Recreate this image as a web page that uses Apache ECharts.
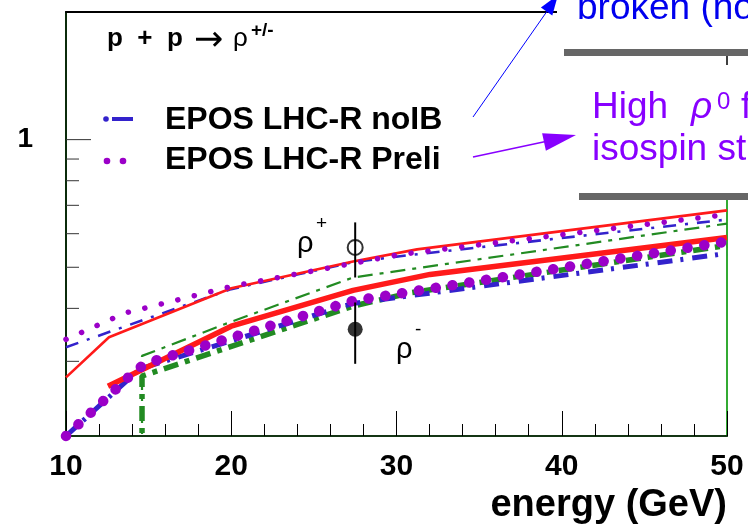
<!DOCTYPE html>
<html><head><meta charset="utf-8">
<script src="https://cdn.jsdelivr.net/npm/echarts@6/dist/echarts.min.js"></script>
<style>html,body{margin:0;padding:0;background:#fff}#c{width:748px;height:525px}</style>
</head><body><div id="c"></div>
<script>
// ---- data ----
const xTickLabels = [10, 20, 30, 40, 50];
const yMajorTicks = [1];
const yMinorTicks = [0.3, 0.4, 0.5, 0.6, 0.7, 0.8, 0.9];

const redUp     = [[10,0.275],[12.6,0.342],[20,0.446],[27.37,0.516],[31.24,0.551],[50,0.681]];
const redLow    = [[12.54,0.262],[20,0.363],[27.37,0.441],[32.03,0.481],[50,0.588]];
const greenUp   = [[14.6,0.15],[14.6,0.309],[19.92,0.371],[27.37,0.473],[28.64,0.481],[50,0.634]];
const greenLow  = [[14.6,0.15],[14.6,0.277],[27.37,0.405],[30.94,0.436],[50,0.563]];
const blueUp    = [[10,0.324],[20,0.444],[27.37,0.514],[30.21,0.531],[50,0.648]];
const blueLow   = [[10,0.2],[14.48,0.288],[27.37,0.411],[50,0.539]];
const purpleUp  = [[10,0.338],[13.57,0.390],[20.05,0.451],[30.21,0.536],[50,0.666]];
const purpleLow = [[10,0.2],[14.36,0.289],[15.26,0.300],[27.31,0.416],[50,0.575]];
// [energy, value, errLow, errHigh]
const rhoPlus  = [[27.5,0.557,0.473,0.638]];
const rhoMinus = [[27.5,0.357,0.296,0.413]];

// ---- chart ----
const FONT = 'Liberation Sans';
const RED = '#ff1a1a', GREEN = '#228b22', BLUE = '#3322cc', PURPLE = '#9b00c8';
const chart = echarts.init(document.getElementById('c'), null, {renderer: 'canvas'});

function line(name, data, color, width, dash, cap, z, clip) {
  return {
    name, type: 'line', data, xAxisIndex: 0, yAxisIndex: 0,
    showSymbol: false, symbol: 'none', z: z, clip: clip !== false,
    lineStyle: {color, width, type: dash || 'solid', cap: cap || 'butt'},
    silent: true
  };
}
function yTickSeries(vals, len) {
  return {
    type: 'custom', data: vals.map(v => [10, v]), xAxisIndex: 0, yAxisIndex: 0, z: 1, silent: true,
    renderItem: (params, api) => {
      const p = api.coord([api.value(0), api.value(1)]);
      return {type: 'line', shape: {x1: p[0], y1: p[1], x2: p[0] + len, y2: p[1]},
              style: {stroke: '#333', lineWidth: 1}};
    }
  };
}
function errSeries(data) {
  return {
    type: 'custom', data, xAxisIndex: 0, yAxisIndex: 0, z: 10, silent: true,
    encode: {x: 0, y: 1},
    renderItem: (params, api) => {
      const a = api.coord([api.value(0), api.value(2)]);
      const b = api.coord([api.value(0), api.value(3)]);
      return {type: 'line', shape: {x1: a[0], y1: a[1], x2: b[0], y2: b[1]},
              style: {stroke: '#000', lineWidth: 2}};
    }
  };
}

const option = {
  animation: false,
  backgroundColor: '#fff',
  grid: {left: 66, right: 21, top: 12, bottom: 89, containLabel: false, outerBoundsMode: 'none'},
  xAxis: [{
    type: 'value', min: 10, max: 50, interval: 10, position: 'bottom',
    name: 'energy (GeV)', nameLocation: 'end', nameGap: 0,
    nameTextStyle: {fontFamily: FONT, fontWeight: 'bold', fontSize: 38, color: '#000',
                    align: 'right', verticalAlign: 'top', padding: [51, 0, 0, 0]},
    axisLine: {show: true, lineStyle: {color: '#143514', width: 2}},
    axisTick: {show: true, inside: true, length: 25, lineStyle: {color: '#000', width: 1}},
    minorTick: {show: true, splitNumber: 5, length: 12, lineStyle: {color: '#000', width: 1}},
    splitLine: {show: false},
    axisLabel: {fontFamily: FONT, fontWeight: 'bold', fontSize: 30, color: '#000', margin: 16,
                formatter: v => xTickLabels.includes(v) ? String(v) : ''}
  }, {
    type: 'value', min: 10, max: 50, position: 'top',
    axisLine: {show: true, lineStyle: {color: '#000', width: 2}},
    axisTick: {show: false}, axisLabel: {show: false}, splitLine: {show: false}
  }],
  yAxis: [{
    type: 'log', logBase: 10, min: 0.2, max: 2, position: 'left',
    axisLine: {show: true, lineStyle: {color: '#0b2b0b', width: 2}},
    axisTick: {show: false}, minorTick: {show: false},
    splitLine: {show: false}, minorSplitLine: {show: false},
    axisLabel: {fontFamily: FONT, fontWeight: 'bold', fontSize: 28, color: '#000', margin: 33,
                padding: [6, 0, 0, 0],
                formatter: v => Math.abs(v - 1) < 1e-6 ? '1' : ''}
  }, {
    type: 'log', logBase: 10, min: 0.2, max: 2, position: 'right',
    axisLine: {show: true, lineStyle: {color: '#33aa33', width: 2}},
    axisTick: {show: false}, axisLabel: {show: false}, splitLine: {show: false}
  }],
  series: [
    yTickSeries(yMinorTicks, 13),
    yTickSeries(yMajorTicks, 25),
    line('greenUp', greenUp, GREEN, 2.2, [15, 7, 4, 7], 'butt', 3),
    line('greenLow', greenLow, GREEN, 5.5, [15, 7, 5, 7], 'butt', 3),
    line('blueUp', blueUp, BLUE, 2.6, [13, 9, 3, 9], 'butt', 4),
    line('blueLow', blueLow, BLUE, 5, [15, 8, 3, 9], 'butt', 4, false),
    line('redUp', redUp, RED, 2.6, 'solid', 'butt', 5),
    line('redLow', redLow, RED, 5.5, 'solid', 'butt', 5),
    line('purpleUp', purpleUp, PURPLE, 5.5, [0.1, 16.9], 'round', 6),
    line('purpleLow', purpleLow, PURPLE, 10.5, [0.1, 16.9], 'round', 6, false),
    errSeries(rhoPlus),
    errSeries(rhoMinus),
    {type: 'scatter', data: rhoPlus, encode: {x: 0, y: 1}, symbol: 'circle', symbolSize: 15, z: 11, silent: true,
     itemStyle: {color: 'rgba(0,0,0,0)', borderColor: '#000', borderWidth: 2}},
    {type: 'scatter', data: rhoMinus, encode: {x: 0, y: 1}, symbol: 'circle', symbolSize: 15, z: 11, silent: true,
     itemStyle: {color: '#000'}}
  ],
  graphic: [
    // title
    {type: 'text', z: 100, style: {x: 107, y: 39, text: 'p  +  p', fontFamily: FONT, fontWeight: 'bold', fontSize: 26, fill: '#000', verticalAlign: 'middle'}},
    {type: 'text', z: 100, style: {x: 194, y: 41, text: '\u2192', fontFamily: 'DejaVu Sans', fontSize: 35, fill: '#000', verticalAlign: 'middle'}},
    {type: 'text', z: 100, style: {x: 233, y: 39, text: '\u03c1', fontFamily: FONT, fontSize: 26, fill: '#000', verticalAlign: 'middle'}},
    {type: 'text', z: 100, style: {x: 251, y: 31, text: '+/-', fontFamily: FONT, fontWeight: 'bold', fontSize: 19, fill: '#000', verticalAlign: 'middle'}},
    // legend
    {type: 'circle', z: 100, shape: {cx: 106, cy: 119, r: 2.8}, style: {fill: BLUE}},
    {type: 'line', z: 100, shape: {x1: 112, y1: 119, x2: 133, y2: 119}, style: {stroke: BLUE, lineWidth: 4}},
    {type: 'text', z: 100, style: {x: 165, y: 120, text: 'EPOS LHC-R noIB', fontFamily: FONT, fontWeight: 'bold', fontSize: 32, fill: '#000', verticalAlign: 'middle'}},
    {type: 'circle', z: 100, shape: {cx: 107, cy: 161, r: 3.3}, style: {fill: PURPLE}},
    {type: 'circle', z: 100, shape: {cx: 123, cy: 161, r: 3.3}, style: {fill: PURPLE}},
    {type: 'text', z: 100, style: {x: 165, y: 160, text: 'EPOS LHC-R Preli', fontFamily: FONT, fontWeight: 'bold', fontSize: 32, fill: '#000', verticalAlign: 'middle'}},
    // rho labels
    {type: 'text', z: 100, style: {x: 297, y: 244, text: '\u03c1', fontFamily: FONT, fontSize: 29, fill: '#000', verticalAlign: 'middle'}},
    {type: 'text', z: 100, style: {x: 316, y: 224, text: '+', fontFamily: FONT, fontSize: 19, fill: '#000', verticalAlign: 'middle'}},
    {type: 'text', z: 100, style: {x: 396, y: 350, text: '\u03c1', fontFamily: FONT, fontSize: 29, fill: '#000', verticalAlign: 'middle'}},
    {type: 'text', z: 100, style: {x: 415, y: 330, text: '-', fontFamily: FONT, fontSize: 19, fill: '#000', verticalAlign: 'middle'}},
    // right annotation panel
    {type: 'rect', z: 200, shape: {x: 557, y: 0, width: 191, height: 193}, style: {fill: '#fff'}},
    {type: 'text', z: 201, style: {x: 577, y: 9, text: 'broken (no', fontFamily: FONT, fontSize: 37, fill: '#0000ee', verticalAlign: 'middle'}},
    {type: 'rect', z: 201, shape: {x: 564, y: 49, width: 184, height: 7}, style: {fill: '#666'}},
    {type: 'line', z: 201, shape: {x1: 727, y1: 56, x2: 727, y2: 65}, style: {stroke: '#000', lineWidth: 1.5}},
    {type: 'text', z: 201, style: {x: 592, y: 108, text: 'High', fontFamily: FONT, fontSize: 37, fill: '#8800ff', verticalAlign: 'middle'}},
    {type: 'text', z: 201, style: {x: 691, y: 108, text: '\u03c1', fontFamily: FONT, fontStyle: 'italic', fontSize: 37, fill: '#8800ff', verticalAlign: 'middle'}},
    {type: 'text', z: 201, style: {x: 717, y: 102, text: '0', fontFamily: FONT, fontSize: 24, fill: '#8800ff', verticalAlign: 'middle'}},
    {type: 'text', z: 201, style: {x: 741, y: 108, text: 'fr', fontFamily: FONT, fontSize: 37, fill: '#8800ff', verticalAlign: 'middle'}},
    {type: 'text', z: 201, style: {x: 592, y: 150, text: 'isospin st', fontFamily: FONT, fontSize: 37, fill: '#8800ff', verticalAlign: 'middle'}},
    {type: 'rect', z: 201, shape: {x: 579, y: 193, width: 169, height: 7}, style: {fill: '#666'}},
    // arrows
    {type: 'line', z: 202, shape: {x1: 473, y1: 117, x2: 550, y2: 7}, style: {stroke: '#0000ff', lineWidth: 1}},
    {type: 'polygon', z: 202, shape: {points: [[558, -5], [552.3, 15.4], [540.9, 7.4]]}, style: {fill: '#0000ff'}},
    {type: 'line', z: 202, shape: {x1: 473, y1: 157, x2: 548, y2: 141}, style: {stroke: '#8800ff', lineWidth: 1.5}},
    {type: 'polygon', z: 202, shape: {points: [[576, 135], [545.9, 150.8], [542.1, 133.2]]}, style: {fill: '#8800ff'}}
  ]
};
chart.setOption(option);
</script>
</body></html>
